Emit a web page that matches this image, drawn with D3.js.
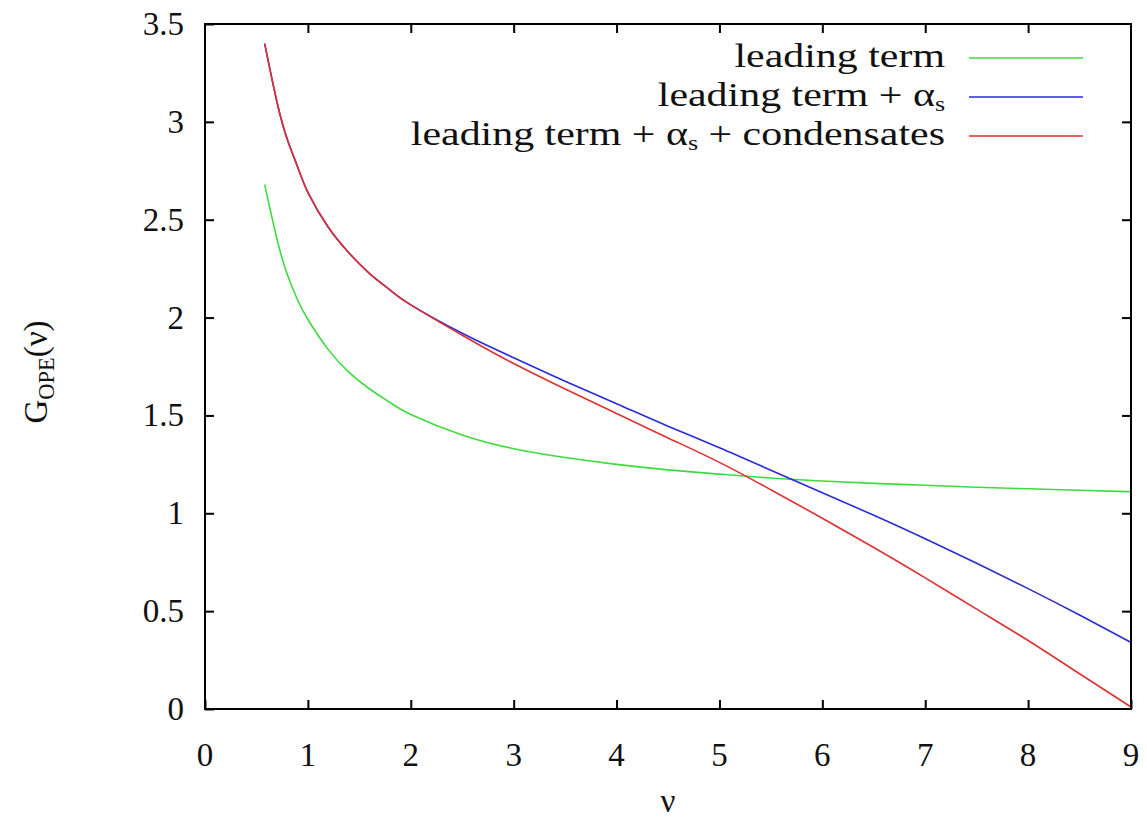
<!DOCTYPE html>
<html><head><meta charset="utf-8">
<script src="https://cdn.jsdelivr.net/npm/d3@7"></script>
<style>body{margin:0;background:#fff;} text{font-family:"Liberation Serif","Nimbus Roman","Times New Roman",Times,serif;fill:#111;}</style>
</head><body>
<svg id="c" width="1147" height="829"></svg>
<script>
const nu = [0.58,0.7,0.8,0.9,1.0,1.2,1.4,1.6,1.8,2.0,2.5,3.0,3.5,4.0,4.5,5.0,5.5,6.0,6.5,7.0,7.5,8.0,8.5,9.0];
const leading = [2.68,2.40,2.22,2.09,1.99,1.835,1.72,1.635,1.565,1.505,1.40,1.33,1.285,1.25,1.222,1.20,1.18,1.165,1.153,1.143,1.133,1.125,1.118,1.11];
const leadingAs = [3.40,3.10,2.91,2.77,2.64,2.46,2.33,2.225,2.14,2.065,1.92,1.795,1.675,1.56,1.445,1.335,1.22,1.105,0.99,0.87,0.745,0.615,0.48,0.34];
const leadingAsCond = [3.40,3.10,2.91,2.77,2.64,2.46,2.33,2.225,2.14,2.065,1.91,1.765,1.635,1.51,1.385,1.26,1.12,0.975,0.825,0.67,0.51,0.35,0.18,0.01];
const xTicks = [0,1,2,3,4,5,6,7,8,9];
const yTicks = [0,0.5,1,1.5,2,2.5,3,3.5];
const seriesNames = ["leading term","leading term + α_s","leading term + α_s + condensates"];
const seriesColors = ["#3ddc3d","#2a2ad8","#e03030"];

const L=205,R=1131,T=24,B=709;
const svg=d3.select("#c");
const x=d3.scaleLinear().domain([0,9]).range([L,R]);
const y=d3.scaleLinear().domain([0,3.5]).range([B,T]);
const SX=1.27, TSX=1.0, FS=33;

const data=[leading,leadingAs,leadingAsCond];
const line=d3.line().x((d,i)=>x(nu[i])).y(d=>y(d)).curve(d3.curveNatural);
data.forEach((s,k)=>{
  svg.append("path").attr("d",line(s)).attr("fill","none")
    .attr("stroke",seriesColors[k]).attr("stroke-width",1.6);
});

svg.append("rect").attr("x",L).attr("y",T).attr("width",R-L).attr("height",B-T)
  .attr("fill","none").attr("stroke","#000").attr("stroke-width",2);

function styleAxis(g){g.select(".domain").remove();g.selectAll("line").attr("stroke","#000").attr("stroke-width",2);}
svg.append("g").attr("transform",`translate(0,${B})`)
  .call(d3.axisBottom(x).tickValues(xTicks).tickSize(-9).tickFormat(""))
  .call(styleAxis);
svg.append("g").attr("transform",`translate(0,${T})`)
  .call(d3.axisTop(x).tickValues(xTicks.slice(1,-1)).tickSize(-9).tickFormat(""))
  .call(styleAxis);
svg.append("g").attr("transform",`translate(${L},0)`)
  .call(d3.axisLeft(y).tickValues(yTicks).tickSize(-9).tickFormat(""))
  .call(styleAxis);
svg.append("g").attr("transform",`translate(${R},0)`)
  .call(d3.axisRight(y).tickValues(yTicks.slice(1,-1)).tickSize(-9).tickFormat(""))
  .call(styleAxis);

xTicks.forEach(v=>{
  svg.append("text").attr("transform",`translate(${x(v)},766) scale(${TSX},1)`)
    .attr("text-anchor","middle").attr("font-size",FS).text(d3.format("d")(v));
});
yTicks.forEach(v=>{
  svg.append("text").attr("transform",`translate(184,${y(v)+11}) scale(${TSX},1)`)
    .attr("text-anchor","end").attr("font-size",FS).text(String(v));
});

svg.append("text").attr("transform",`translate(668,812) scale(${TSX},1)`)
  .attr("text-anchor","middle").attr("font-size",FS).text("ν");
const yl=svg.append("text").attr("transform",`translate(47,372) rotate(-90) scale(1,${TSX})`)
  .attr("text-anchor","middle").attr("font-size",FS);
yl.append("tspan").text("G");
yl.append("tspan").attr("font-size",FS*0.68).attr("dy",7).text("OPE");
yl.append("tspan").attr("dy",-7).text("(ν)");

const legY=[58,97,136];
seriesNames.forEach((n,k)=>{
  const t=svg.append("text").attr("transform",`translate(945,${legY[k]+9}) scale(${SX},1)`)
    .attr("text-anchor","end").attr("font-size",FS);
  const parts=n.split("α_s");
  parts.forEach((p,i)=>{
    if(i>0){
      t.append("tspan").text("α");
      t.append("tspan").attr("font-size",FS*0.62).attr("dy",5).text("s");
      t.append("tspan").attr("dy",-5).text(p);
    } else t.append("tspan").text(p);
  });
  svg.append("line").attr("x1",969).attr("x2",1083).attr("y1",legY[k]).attr("y2",legY[k])
    .attr("stroke",seriesColors[k]).attr("stroke-width",1.6);
});
</script>
</body></html>
